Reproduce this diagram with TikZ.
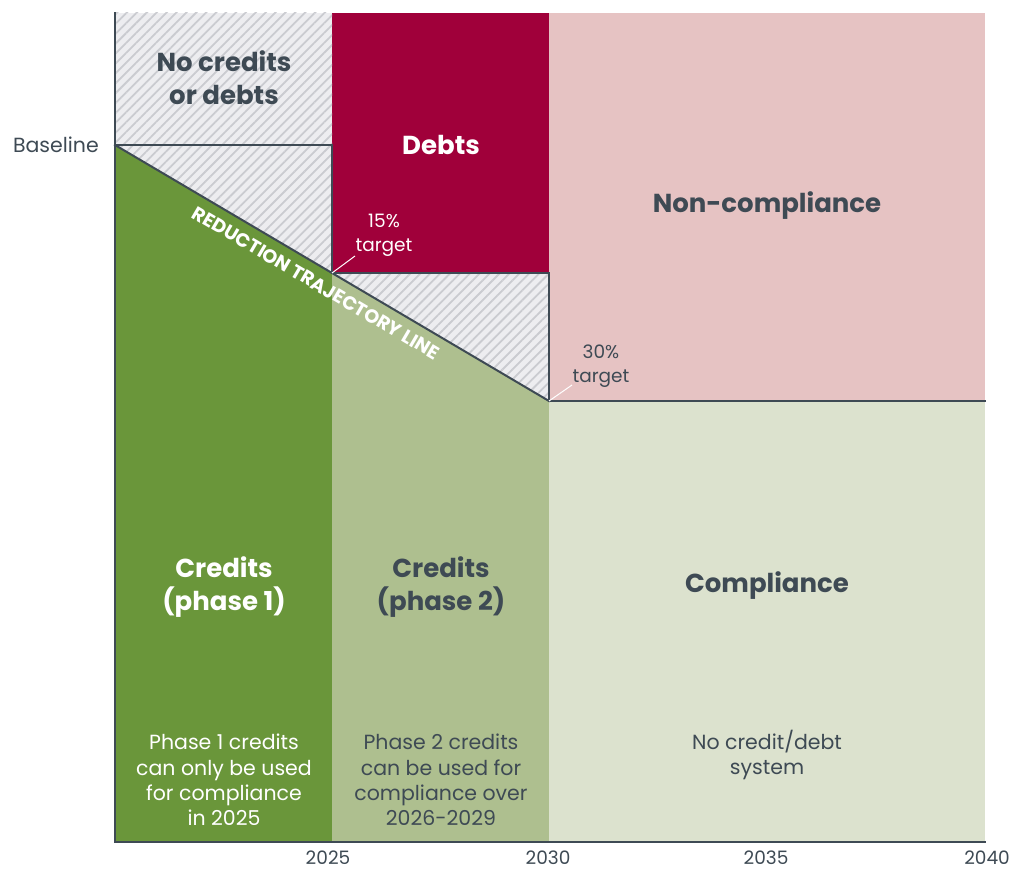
\documentclass[tikz,border=0pt]{standalone}
\usepackage{fontspec}
\setmainfont{Poppins}
\usepackage{tikz}
\usetikzlibrary{patterns.meta, positioning, calc}

\definecolor{slate}{HTML}{3E4A54}
\definecolor{greenA}{HTML}{6A963A}
\definecolor{greenB}{HTML}{AEBF8F}
\definecolor{greenC}{HTML}{DCE2CE}
\definecolor{wine}{HTML}{A0003A}
\definecolor{blush}{HTML}{E6C3C3}
\definecolor{hatchbg}{HTML}{EDEDF0}
\definecolor{hatchfg}{HTML}{CACBD0}

\begin{document}
\begin{tikzpicture}[
    x=1pt, y=-1pt,
    every node/.style={align=center, inner sep=0pt},
    hatchbox/.style={fill=hatchbg, postaction={pattern={Lines[angle=45, distance=7pt, line width=1.8pt]}, pattern color=hatchfg}},
    bigtitle/.style={font=\fontsize{26}{33}\selectfont\bfseries, text=slate},
    smalltext/.style={font=\fontsize{20.5}{25.3}\selectfont, text=slate},
    tinytext/.style={font=\fontsize{18.5}{24}\selectfont, text=slate},
    yeartext/.style={font=\fontsize{18.5}{20}\selectfont, text=slate},
    border/.style={draw=slate, line width=2pt, line cap=rect},
    leader/.style={draw=white, line width=1pt}
]
\useasboundingbox (0,0) rectangle (1015,872);

% key points of the trajectory
\coordinate (base) at (115,145);
\coordinate (t15) at (332,273);
\coordinate (t30) at (549,401);

% coloured areas
\fill[wine] (332,13) rectangle (549,273);
\fill[blush] (549,13) rectangle (985,401);
\fill[greenA] (base) -- (t15) -- (332,842) -- (115,842) -- cycle;
\fill[greenB] (t15) -- (t30) -- (549,842) -- (332,842) -- cycle;
\fill[greenC] (t30) rectangle (985,842);
\path[hatchbox] (115,13) rectangle (332,145);
\path[hatchbox] (base) -- (332,145) -- (t15) -- (549,273) -- (t30) -- cycle;

% boundaries
\draw[border] (base) -- (332,145) -- (t15) -- (549,273) -- (t30) -- (985,401);
\draw[border] (base) -- (t30);
\draw[border] (115,13) -- (115,842) -- (985,842);

% leaders to the targets
\draw[leader] (t15) -- ++(23,-17);
\draw[leader] (t30) -- ++(23,-16);

% labels
\node[smalltext, anchor=east] (lblBase) at (99,145) {Baseline};
\node[bigtitle] (noCD) at (224,78) {No credits\\or debts};
\node[bigtitle, text=white] (debts) at (441,145) {Debts};
\node[tinytext, text=white] (tgt15) at (384,235) {15\%\\target};
\node[bigtitle] (noncomp) at (767,206) {Non-compliance};
\node[tinytext] (tgt30) at (601,366) {30\%\\target};
\node[font=\fontsize{19}{19}\selectfont\bfseries, text=white, rotate=-30.5] (traj) at (316,283) {REDUCTION TRAJECTORY LINE};

\node[bigtitle, text=white] (cred1) at (224,587) {Credits\\(phase 1)};
\node[bigtitle] (cred2) at (441,587) {Credits\\(phase 2)};
\node[bigtitle] (comp) at (767,586) {Compliance};

\node[smalltext, text=white] (note1) at (224,780) {Phase 1 credits\\can only be used\\for compliance\\in 2025};
\node[smalltext] (note2) at (441,780) {Phase 2 credits\\can be used for\\compliance over\\2026-2029};
\node[smalltext] (note3) at (767,755) {No credit/debt\\system};

% years along the bottom
\foreach \yr/\xx in {2025/328, 2030/548, 2035/766, 2040/987}
    \node[yeartext] (yr\yr) at (\xx,858) {\yr};

\end{tikzpicture}
\end{document}
